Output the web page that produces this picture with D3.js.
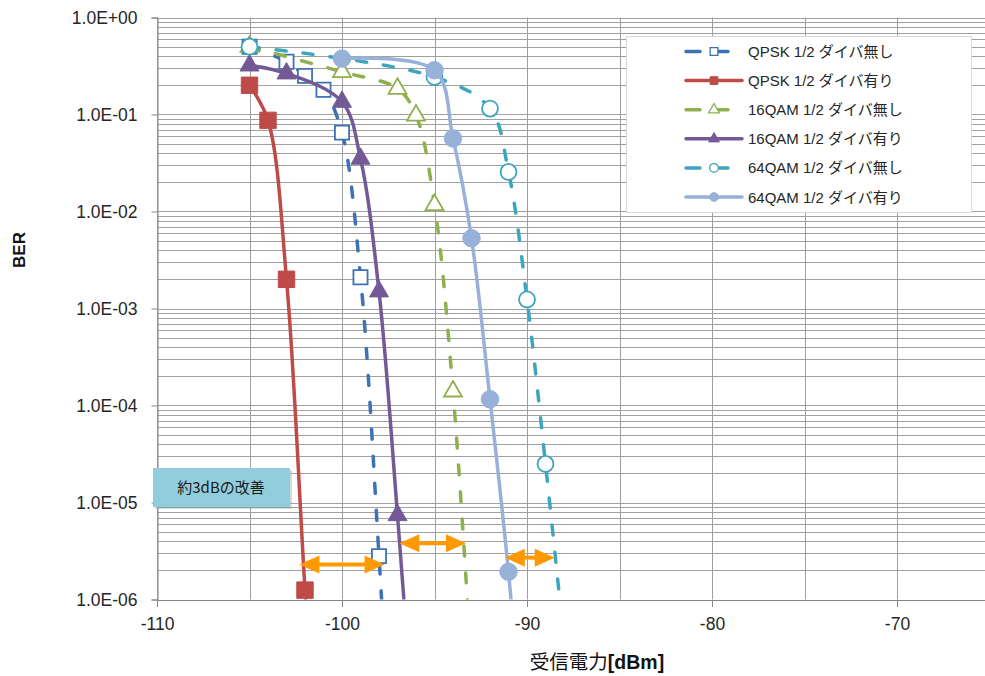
<!DOCTYPE html>
<html>
<head>
<meta charset="utf-8" />
<title>BER 特性</title>
<script src="https://d3js.org/d3.v7.min.js"></script>
<style>
    body { margin: 0; background: #fff; }
    svg { display: block; font-family: "Liberation Sans", "Noto Sans CJK JP", sans-serif; }
</style>
</head>
<body>
<svg id="chart" width="985" height="676"></svg>
<script>
// series data: received power [dBm] and BER (last point of each lies below 1E-06, off the chart)
const qpskNoX = [-105, -103, -102, -101, -100, -99, -98, -97]
const qpskNoY = [0.5, 0.35, 0.25, 0.18, 0.065, 0.0021, 2.8e-6, 1e-9]
const qpskDivX = [-105, -104, -103, -102, -101]
const qpskDivY = [0.2, 0.087, 0.002, 1.25e-6, 1e-9]
const qam16NoX = [-105, -100, -97, -96, -95, -94, -93]
const qam16NoY = [0.5, 0.275, 0.185, 0.098, 0.0117, 1.4e-4, 2e-7]
const qam16DivX = [-105, -103, -100, -99, -98, -97, -96]
const qam16DivY = [0.32, 0.265, 0.135, 0.035, 0.0015, 7.4e-6, 2e-8]
const qam64NoX = [-105, -95, -92, -91, -90, -89, -88]
const qam64NoY = [0.5, 0.244, 0.115, 0.0256, 0.00124, 2.5e-5, 3.8e-7]
const qam64DivX = [-100, -95, -94, -93, -92, -91, -90]
const qam64DivY = [0.377, 0.286, 0.0566, 0.0053, 1.16e-4, 1.93e-6, 1.25e-8]

const seriesNames = ['QPSK 1/2 ダイバ無し', 'QPSK 1/2 ダイバ有り', '16QAM 1/2 ダイバ無し',
    '16QAM 1/2 ダイバ有り', '64QAM 1/2 ダイバ無し', '64QAM 1/2 ダイバ有り']

const xTicks = [-110, -100, -90, -80, -70]
const xGrid = [-110, -105, -100, -95, -90, -85, -80, -75, -70, -65]
const yTicks = [1e-6, 1e-5, 1e-4, 1e-3, 1e-2, 1e-1, 1]
const yTickLabels = ['1.0E-06', '1.0E-05', '1.0E-04', '1.0E-03', '1.0E-02', '1.0E-01', '1.0E+00']

// improvement arrows [x from, x to, BER]
const arrowFrom = [-102.3, -96.9, -91.2]
const arrowTo = [-97.7, -93.3, -88.5]
const arrowBer = [2.3e-6, 3.8e-6, 2.7e-6]

const svg = d3.select('#chart')
const pLeft = 157, pRight = 989.5, pTop = 17.5, pBottom = 599.5

const x = d3.scaleLinear().domain([-110, -65]).range([pLeft, pRight])
const y = d3.scaleLog().domain([1e-6, 1]).range([pBottom, pTop])

svg.append('defs').append('clipPath').attr('id', 'plot')
    .append('rect').attr('x', pLeft).attr('y', pTop - 12)
    .attr('width', pRight - pLeft + 10).attr('height', pBottom - pTop + 12)

// grid
const grid = svg.append('g')
grid.selectAll('line.h').data(y.ticks()).enter().append('line')
    .attr('x1', pLeft).attr('x2', pRight)
    .attr('y1', d => Math.round(y(d)) + 0.5).attr('y2', d => Math.round(y(d)) + 0.5)
    .style('stroke', '#a0a0a0').style('stroke-width', '1px')
grid.selectAll('line.v').data(xGrid).enter().append('line')
    .attr('x1', d => Math.round(x(d)) + 0.5).attr('x2', d => Math.round(x(d)) + 0.5)
    .attr('y1', pTop).attr('y2', pBottom)
    .style('stroke', '#a0a0a0').style('stroke-width', '1px')

// axes
const yAxis = svg.append('g').attr('transform', `translate(${pLeft + 0.5},0)`)
    .call(d3.axisLeft(y).tickValues(yTicks).tickFormat((d, i) => yTickLabels[i]).tickSize(6).tickPadding(14))
const xAxis = svg.append('g').attr('transform', `translate(0,${pBottom + 0.5})`)
    .call(d3.axisBottom(x).tickValues(xTicks).tickFormat(d => d).tickSize(7).tickPadding(14))
svg.selectAll('.domain, .tick line').style('stroke', '#868686').style('stroke-width', '1px')
svg.selectAll('.tick text').style('font-size', '17.5px').style('fill', '#262626')
    .style('font-family', '"Liberation Sans", sans-serif')
xAxis.selectAll('.tick text').attr('dy', '0.5em')

// series
const series = [
    { name: seriesNames[0], xs: qpskNoX, ys: qpskNoY, color: '#3d72b4', dash: true, mark: 'square', fill: false },
    { name: seriesNames[1], xs: qpskDivX, ys: qpskDivY, color: '#be4b48', dash: false, mark: 'square', fill: true },
    { name: seriesNames[2], xs: qam16NoX, ys: qam16NoY, color: '#8fb04d', dash: true, mark: 'triangle', fill: false },
    { name: seriesNames[3], xs: qam16DivX, ys: qam16DivY, color: '#735a97', dash: false, mark: 'triangle', fill: true },
    { name: seriesNames[4], xs: qam64NoX, ys: qam64NoY, color: '#3ea5bf', dash: true, mark: 'circle', fill: false },
    { name: seriesNames[5], xs: qam64DivX, ys: qam64DivY, color: '#97b1d8', dash: false, mark: 'circle', fill: true },
]

const line = d3.line()
    .x(d => x(d[0]))
    .y(d => y(d[1]))
    .curve(d3.curveCatmullRom.alpha(0.5))

function symbolFor(s, big) {
    if (s.mark === 'square') return d3.symbol().type(d3.symbolSquare).size(big ? (s.fill ? 270 : 200) : 60)()
    if (s.mark === 'triangle') return d3.symbol().type(d3.symbolTriangle).size(big ? (s.fill ? 155 : 140) : 50)()
    return d3.symbol().type(d3.symbolCircle).size(big ? (s.fill ? 240 : 200) : 60)()
}

const plot = svg.append('g').attr('clip-path', 'url(#plot)')
series.forEach(s => {
    const pts = s.xs.map((v, i) => [v, s.ys[i]])
    const g = plot.append('g')
    g.append('path')
        .attr('d', line(pts))
        .style('fill', 'none')
        .style('stroke', s.color)
        .style('stroke-width', '3.5px')
        .style('stroke-linecap', 'round')
        .style('stroke-dasharray', s.dash ? '10,17' : null)
    g.selectAll('path.m').data(pts).enter().append('path')
        .attr('d', symbolFor(s, true))
        .attr('transform', d => `translate(${x(d[0])},${y(d[1])})`)
        .style('fill', s.fill ? s.color : '#fff')
        .style('stroke', s.color)
        .style('stroke-width', s.fill ? '1px' : '1.8px')
})

// arrows
const arrows = svg.append('g')
arrowFrom.forEach((a, i) => {
    const x1 = x(a), x2 = x(arrowTo[i]), yy = y(arrowBer[i])
    const hl = 20, hw = 9
    arrows.append('line')
        .attr('x1', x1 + hl - 2).attr('x2', x2 - hl + 2).attr('y1', yy).attr('y2', yy)
        .style('stroke', '#ff9900').style('stroke-width', '4px')
    arrows.append('path')
        .attr('d', `M${x1},${yy}L${x1 + hl},${yy - hw}L${x1 + hl},${yy + hw}Z`)
        .style('fill', '#ff9900')
    arrows.append('path')
        .attr('d', `M${x2},${yy}L${x2 - hl},${yy - hw}L${x2 - hl},${yy + hw}Z`)
        .style('fill', '#ff9900')
})

// note box
const note = svg.append('g')
note.append('rect').attr('x', 155).attr('y', 470).attr('width', 137).attr('height', 39)
    .style('fill', '#7f9fa8').style('opacity', 0.35)
note.append('rect').attr('x', 153).attr('y', 468).attr('width', 137).attr('height', 39)
    .style('fill', '#92cddc')
note.append('text').attr('x', 221).attr('y', 493).attr('text-anchor', 'middle')
    .style('font-size', '15px').style('fill', '#1a1a1a')
    .style('font-family', '"Noto Sans CJK JP", sans-serif')
    .text('約3dBの改善')

// legend
const legend = svg.append('g')
legend.append('rect').attr('x', 626.5).attr('y', 36.5).attr('width', 345).attr('height', 176)
    .style('fill', '#fff').style('stroke', '#d9d9d9').style('stroke-width', '1px')
series.forEach((s, i) => {
    const ly = 51.5 + i * 29.1
    legend.append('line').attr('x1', 686).attr('x2', s.dash ? 728 : 742).attr('y1', ly).attr('y2', ly)
        .style('stroke', s.color).style('stroke-width', '3.5px').style('stroke-linecap', 'round')
        .style('stroke-dasharray', s.dash ? '14,14' : null)
    legend.append('path').attr('d', symbolFor(s, false))
        .attr('transform', `translate(714,${ly})`)
        .style('fill', s.fill ? s.color : '#fff').style('stroke', s.color)
        .style('stroke-width', s.fill ? '1px' : '1.3px')
    legend.append('text').attr('x', 748).attr('y', ly + 5.5)
        .style('font-size', '15px').style('fill', '#262626')
        .text(s.name)
})

// axis titles
svg.append('text').attr('transform', 'translate(25,250) rotate(-90)')
    .attr('text-anchor', 'middle')
    .style('font-size', '17px').style('font-weight', 'bold').style('fill', '#111')
    .text('BER')
const xt = svg.append('text').attr('x', 597).attr('y', 669).attr('text-anchor', 'middle')
    .style('font-size', '19.5px').style('fill', '#111')
xt.append('tspan').style('font-family', '"Noto Sans CJK JP", sans-serif').text('受信電力')
xt.append('tspan').style('font-weight', 'bold').text('[dBm]')
</script>
</body>
</html>
